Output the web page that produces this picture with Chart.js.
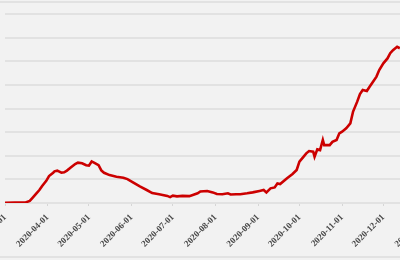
<!DOCTYPE html>
<html>
<head>
<meta charset="utf-8">
<script src="https://cdn.jsdelivr.net/npm/chart.js@4.4.0/dist/chart.umd.min.js"></script>
<style>
  html, body { margin: 0; padding: 0; background: #f2f2f2; overflow: hidden; }
  #wrap { position: relative; width: 400px; height: 260px; overflow: hidden; }
  #chart { position: absolute; left: 0; top: 0; }
  .rule { position: absolute; left: 0; width: 400px; height: 2px; background: #e2e2e2; }
</style>
</head>
<body>
<div id="wrap">
  <div class="rule" style="top:1px"></div>
  <div class="rule" style="top:256px"></div>
  <canvas id="chart" width="440" height="260"></canvas>
</div>
<script>
// daily series
const dates = [
  '2020-03-01','2020-03-08','2020-03-16','2020-03-19','2020-03-21','2020-03-24','2020-03-26','2020-03-28','2020-03-31',
  '2020-04-02','2020-04-05','2020-04-06','2020-04-08','2020-04-11','2020-04-13','2020-04-15','2020-04-18','2020-04-21',
  '2020-04-23','2020-04-26','2020-04-29','2020-05-01','2020-05-03','2020-05-06','2020-05-08','2020-05-10','2020-05-12',
  '2020-05-16','2020-05-21','2020-05-26','2020-05-29','2020-06-02','2020-06-07','2020-06-12','2020-06-16','2020-06-21',
  '2020-06-27','2020-06-29','2020-07-01','2020-07-04','2020-07-08','2020-07-13','2020-07-16','2020-07-19','2020-07-21',
  '2020-07-26','2020-07-30','2020-08-02','2020-08-06','2020-08-10','2020-08-12','2020-08-16','2020-08-19','2020-08-24',
  '2020-08-28','2020-09-02','2020-09-05','2020-09-07','2020-09-10','2020-09-13','2020-09-15','2020-09-17','2020-09-22',
  '2020-09-26','2020-09-29','2020-10-01','2020-10-03','2020-10-06','2020-10-08','2020-10-11','2020-10-12','2020-10-14',
  '2020-10-16','2020-10-18','2020-10-19','2020-10-23','2020-10-25','2020-10-28','2020-10-30','2020-11-01','2020-11-04',
  '2020-11-07','2020-11-09','2020-11-12','2020-11-14','2020-11-16','2020-11-19','2020-11-21','2020-11-23','2020-11-26',
  '2020-11-28','2020-12-01','2020-12-04','2020-12-06','2020-12-08','2020-12-11','2020-12-13'
];
const values = [
  5, 8, 12, 45, 110, 210, 275, 360, 470,
  570, 640, 670, 685, 640, 650, 685, 755, 825,
  855, 840, 800, 790, 880, 835, 800, 690, 640,
  590, 555, 535, 505, 435, 350, 275, 210, 185,
  150, 125, 155, 140, 150, 145, 175, 205, 245,
  255, 225, 190, 185, 205, 180, 185, 185, 205,
  225, 255, 275, 225, 310, 330, 415, 400, 525,
  615, 700, 875, 945, 1050, 1100, 1085, 980, 1135,
  1120, 1335, 1225, 1225, 1295, 1335, 1475, 1510, 1580,
  1685, 1935, 2145, 2305, 2390, 2370, 2460, 2545, 2675,
  2815, 2955, 3060, 3170, 3235, 3305, 3275
];
const tickDates = [
  '2020-03-01','2020-04-01','2020-05-01','2020-06-01','2020-07-01','2020-08-01',
  '2020-09-01','2020-10-01','2020-11-01','2020-12-01','2021-01-01'
];
const startDate = '2020-03-01';
const endDate = '2021-01-01';

// days since the start date
const dayNo = d => Math.round((Date.parse(d) - Date.parse(startDate)) / 86400000);

new Chart(document.getElementById('chart'), {
  type: 'line',
  data: {
    datasets: [{
      data: dates.map((d, i) => ({ x: dayNo(d), y: values[i] })),
      borderColor: '#cc0000',
      borderWidth: 2.6,
      pointRadius: 0,
      tension: 0,
      fill: false
    }]
  },
  options: {
    responsive: false,
    animation: false,
    layout: { padding: { left: 5, right: 14, top: 14, bottom: 0 } },
    plugins: { legend: { display: false }, tooltip: { enabled: false } },
    scales: {
      x: {
        type: 'linear',
        min: 0,
        max: dayNo(endDate),
        afterBuildTicks: s => { s.ticks = tickDates.map(d => ({ value: dayNo(d) })); },
        afterFit: s => { s.height = 57; s.paddingLeft = 0; s.paddingRight = 0; },
        grid: { drawOnChartArea: false, color: '#d6d6d6', tickLength: 3 },
        border: { display: false },
        ticks: {
          autoSkip: false,
          minRotation: 45,
          maxRotation: 45,
          padding: 6,
          color: '#4a4a4a',
          font: { family: 'Liberation Serif', size: 9, weight: 'bold' },
          callback: (v, i) => tickDates[i]
        }
      },
      y: {
        min: 0,
        max: 4000,
        afterFit: s => { s.width = 0; },
        ticks: { display: false, stepSize: 500 },
        grid: { color: '#e2e2e2', lineWidth: 2, drawTicks: false },
        border: { display: false }
      }
    }
  }
});
</script>
</body>
</html>
